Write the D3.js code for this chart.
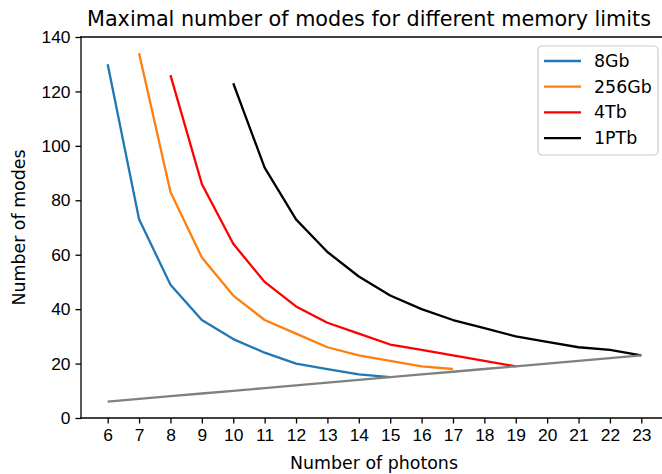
<!DOCTYPE html>
<html>
<head>
<meta charset="utf-8">
<script src="https://cdn.jsdelivr.net/npm/d3@7"></script>
<style>
  body { margin: 0; background: #fff; }
  svg { font-family: "DejaVu Sans", sans-serif; }
</style>
</head>
<body>
<div class="canvas"></div>
<script>
// data
const photons = [6, 7, 8, 9, 10, 11, 12, 13, 14, 15, 16, 17, 18, 19, 20, 21, 22, 23];
const modes8Gb = [130, 73, 49, 36, 29, 24, 20, 18, 16, 15];                         // x 6..15
const modes256Gb = [134, 83, 59, 45, 36, 31, 26, 23, 21, 19, 18];                   // x 7..17
const modes4Tb = [126, 86, 64, 50, 41, 35, 31, 27, 25, 23, 21, 19];                 // x 8..19
const modes1PTb = [123, 92, 73, 61, 52, 45, 40, 36, 33, 30, 28, 26, 25, 23];        // x 10..23
const limitLine = [6, 7, 8, 9, 10, 11, 12, 13, 14, 15, 16, 17, 18, 19, 20, 21, 22, 23];
const seriesNames = ['8Gb', '256Gb', '4Tb', '1PTb'];
const seriesStart = [6, 7, 8, 10];
const yTicks = [0, 20, 40, 60, 80, 100, 120, 140];

const colors = ['#1f77b4', '#ff7f0e', '#ff0000', '#000000'];
const seriesValues = [modes8Gb, modes256Gb, modes4Tb, modes1PTb];

const width = 662, height = 474;
// plot box (right edge is cut off by the picture, like the original)
const margin = { top: 37, right: -6, bottom: 56, left: 81 };

const svg = d3.select('.canvas')
    .append('svg')
    .attr('width', width)
    .attr('height', height);

const graphWidth = width - margin.left - margin.right;
const graphHeight = height - margin.top - margin.bottom;

const graph = svg.append('g')
    .attr('transform', `translate(${margin.left}, ${margin.top})`);

// scales, with matplotlib's 5% margin on x
const x = d3.scaleLinear()
    .domain([5.15, 23.85])
    .range([0, graphWidth]);
const y = d3.scaleLinear()
    .domain([0, 140])
    .range([graphHeight, 0]);

const line = d3.line()
    .x(d => x(d[0]))
    .y(d => y(d[1]));

// series lines
seriesValues.forEach((vals, i) => {
    const pts = vals.map((v, j) => [seriesStart[i] + j, v]);
    graph.append('path')
        .datum(pts)
        .attr('fill', 'none')
        .attr('stroke', colors[i])
        .attr('stroke-width', 2.3)
        .attr('stroke-linejoin', 'round')
        .attr('d', line);
});

// grey limit line, drawn last
graph.append('path')
    .datum(photons.map((p, j) => [p, limitLine[j]]))
    .attr('fill', 'none')
    .attr('stroke', '#808080')
    .attr('stroke-width', 2.3)
    .attr('d', line);

// axes
const xAxis = d3.axisBottom(x).tickValues(photons).tickSize(5.5).tickPadding(5).tickFormat(d3.format('d'));
const yAxis = d3.axisLeft(y).tickValues(yTicks).tickSize(5.5).tickPadding(5);

const xAxisGroup = graph.append('g')
    .attr('transform', `translate(0, ${graphHeight})`)
    .call(xAxis);
const yAxisGroup = graph.append('g').call(yAxis);

[xAxisGroup, yAxisGroup].forEach(g => {
    g.select('.domain').remove();
    g.selectAll('line').attr('stroke', '#000').attr('stroke-width', 1.3);
    g.selectAll('text').attr('fill', '#000').style('font-size', '17.4px');
});

// spines
const spine = (x1, y1, x2, y2) => graph.append('line')
    .attr('x1', x1).attr('y1', y1).attr('x2', x2).attr('y2', y2)
    .attr('stroke', '#000').attr('stroke-width', 1.3).attr('stroke-linecap', 'square');
spine(0, 0, 0, graphHeight);
spine(0, graphHeight, graphWidth, graphHeight);
spine(0, 0, graphWidth, 0);

// title and labels
svg.append('text')
    .attr('x', 369)
    .attr('y', 26)
    .attr('text-anchor', 'middle')
    .style('font-size', '20.75px')
    .text('Maximal number of modes for different memory limits');

svg.append('text')
    .attr('x', 374)
    .attr('y', 469)
    .attr('text-anchor', 'middle')
    .style('font-size', '17.4px')
    .text('Number of photons');

svg.append('text')
    .attr('transform', `translate(24.5, ${margin.top + graphHeight / 2}) rotate(-90)`)
    .attr('text-anchor', 'middle')
    .style('font-size', '17.4px')
    .text('Number of modes');

// legend
const legend = svg.append('g').attr('transform', 'translate(538, 46)');
legend.append('rect')
    .attr('width', 120).attr('height', 109)
    .attr('rx', 4)
    .attr('fill', '#fff').attr('fill-opacity', 0.8)
    .attr('stroke', '#ccc').attr('stroke-width', 1.2);

seriesNames.forEach((name, i) => {
    const ly = 15 + i * 25.7;
    legend.append('line')
        .attr('x1', 6).attr('x2', 43)
        .attr('y1', ly).attr('y2', ly)
        .attr('stroke', colors[i]).attr('stroke-width', 2.3);
    legend.append('text')
        .attr('x', 56).attr('y', ly)
        .attr('dy', '0.35em')
        .style('font-size', '17.4px')
        .text(name);
});
</script>
</body>
</html>
